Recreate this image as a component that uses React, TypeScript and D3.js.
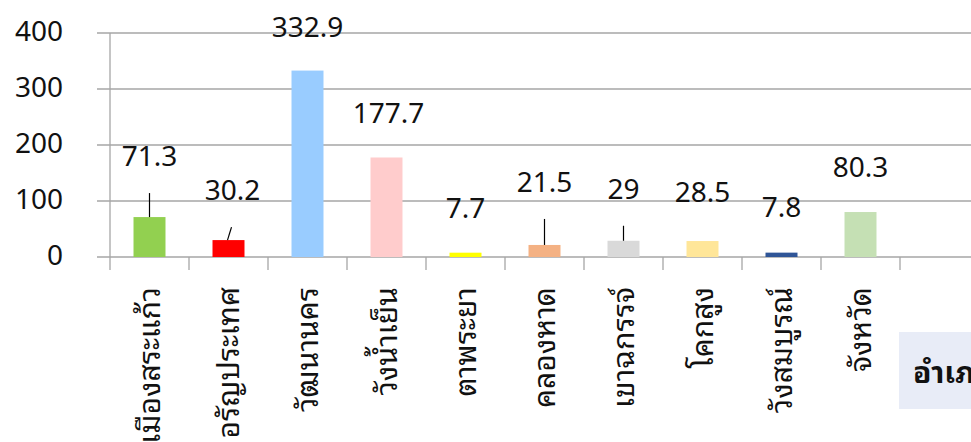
import React from "react";
import * as d3 from "d3";

// District names (last slot is an empty category)
const districts = [
  "เมืองสระแก้ว",
  "อรัญประเทศ",
  "วัฒนานคร",
  "วังน้ำเย็น",
  "ตาพระยา",
  "คลองหาด",
  "เขาฉกรรจ์",
  "โคกสูง",
  "วังสมบูรณ์",
  "จังหวัด",
  "",
];
const values: (number | null)[] = [71.3, 30.2, 332.9, 177.7, 7.7, 21.5, 29, 28.5, 7.8, 80.3, null];
const barColors = [
  "#92D050", "#FF0000", "#99CCFF", "#FFCCCC", "#FFFF00",
  "#F4B183", "#D9D9D9", "#FFE699", "#2F5597", "#C5E0B4", "#ffffff",
];
const yTicks = [0, 100, 200, 300, 400];
const axisTitle = "อำเภอ";

// Hand-placed data label offsets (px above bar top, px sideways) and leader flags
const labelLift = [61, 50, 44, 45, 45, 63, 52, 49, 46, 45, 0];
const labelShift = [0, 4, 0, 2, 0, 0, 0, 0, 0, 0, 0];
const hasLeader = [true, true, false, false, false, true, true, false, false, false, false];

const W = 971;
const H = 442;
const left = 110;
const band = 79;
const top = 33;
const bottom = 257;

const thaiFont =
  "'Noto Sans Thai Looped', 'Noto Serif Thai', Loma, Garuda, Kinnari, 'Noto Sans Thai', sans-serif";
const numFont = "'Noto Sans', 'Open Sans', sans-serif";

export default function App() {
  const x = d3
    .scaleBand<string>()
    .domain(districts.map((d, i) => `${i}`))
    .range([left, left + band * districts.length])
    .padding(0);
  const y = d3.scaleLinear().domain([0, 400]).range([bottom, top]);
  const barW = x.bandwidth() * 0.405;
  const gridColor = "#A6A6A6";

  return (
    <svg
      width={W}
      height={H}
      style={{ position: "absolute", left: 0, top: 0, background: "#fff" }}
    >
      {/* gridlines and value axis labels */}
      {yTicks.map((t) => (
        <g key={t}>
          <line x1={97} x2={W} y1={y(t)} y2={y(t)} stroke={gridColor} strokeWidth={1.3} />
          <text
            x={63}
            y={y(t)}
            dy="0.3em"
            textAnchor="end"
            fontFamily={numFont}
            fontSize={28}
            fill="#111"
          >
            {t}
          </text>
        </g>
      ))}
      {/* value axis line */}
      <line x1={left} x2={left} y1={top} y2={bottom + 13} stroke={gridColor} strokeWidth={1.3} />
      {/* category ticks */}
      {districts.map((d, i) => {
        const xr = (x(`${i}`) as number) + band;
        return (
          <line key={`t${i}`} x1={xr} x2={xr} y1={bottom} y2={bottom + 13} stroke={gridColor} strokeWidth={1.3} />
        );
      })}
      {/* bars */}
      {values.map((v, i) => {
        if (v == null) return null;
        const cx = (x(`${i}`) as number) + band / 2;
        return (
          <rect
            key={`b${i}`}
            x={cx - barW / 2}
            y={y(v)}
            width={barW}
            height={y(0) - y(v)}
            fill={barColors[i]}
          />
        );
      })}
      {/* data labels with leader lines */}
      {values.map((v, i) => {
        if (v == null) return null;
        const cx = (x(`${i}`) as number) + band / 2;
        const barTop = y(v);
        const ly = barTop - labelLift[i];
        const lx = cx + labelShift[i];
        return (
          <g key={`l${i}`}>
            {hasLeader[i] && (
              <line
                x1={cx + (labelShift[i] > 0 ? -1 : 0)}
                y1={barTop}
                x2={lx - (labelShift[i] > 0 ? 1 : 0)}
                y2={ly + 37}
                stroke="#000"
                strokeWidth={1.2}
              />
            )}
            <text
              x={lx}
              y={ly}
              dy="0.36em"
              textAnchor="middle"
              fontFamily={numFont}
              fontSize={28}
              fill="#111"
            >
              {v}
            </text>
          </g>
        );
      })}
      {/* rotated category labels */}
      {districts.map((d, i) => {
        const cx = (x(`${i}`) as number) + band / 2 + 10;
        return (
          <text
            key={`c${i}`}
            transform={`translate(${cx},287) rotate(-90)`}
            textAnchor="end"
            fontFamily={thaiFont}
            fontSize={30}
            fill="#111"
          >
            {d}
          </text>
        );
      })}
      {/* axis title box */}
      <rect x={899} y={332} width={90} height={77} fill="#E8ECF7" />
      <text x={913} y={383} fontFamily={thaiFont} fontSize={30} fontWeight="bold" fill="#111">
        {axisTitle}
      </text>
    </svg>
  );
}
